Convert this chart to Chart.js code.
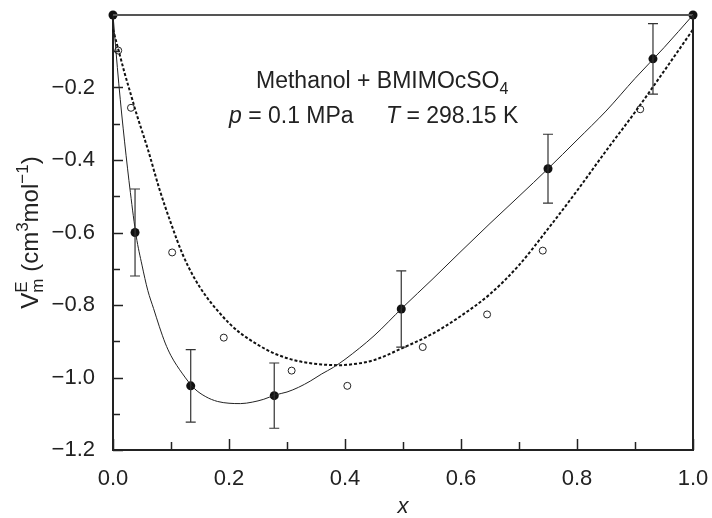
<!DOCTYPE html>
<html>
<head>
<meta charset="utf-8">
<script src="https://cdn.jsdelivr.net/npm/chart.js@4.4.1/dist/chart.umd.min.js"></script>
<style>
  html, body { margin: 0; padding: 0; background: #fff; }
  #wrap { width: 712px; height: 518px; }
</style>
</head>
<body>
<div id="wrap"><canvas id="chart" width="712" height="518"></canvas></div>
<script>
// measured points with error bars (filled circles)
const measX = [0, 0.038, 0.134, 0.278, 0.497, 0.75, 0.931, 1.0];
const measY = [0, -0.60, -1.023, -1.050, -0.811, -0.424, -0.121, 0];
const measErr = [0, 0.12, 0.10, 0.09, 0.105, 0.095, 0.097, 0];

// literature points (open circles)
const litX = [0.009, 0.031, 0.102, 0.191, 0.308, 0.404, 0.534, 0.645, 0.741, 0.909];
const litY = [-0.098, -0.256, -0.655, -0.890, -0.981, -1.023, -0.916, -0.826, -0.650, -0.260];

// solid fitted curve
const fitX = [0, 0.01, 0.02, 0.03, 0.04, 0.05, 0.06, 0.07, 0.08, 0.09, 0.10, 0.12, 0.14, 0.16, 0.18, 0.20,
  0.22, 0.24, 0.26, 0.28, 0.30, 0.32, 0.34, 0.36, 0.38, 0.40, 0.45, 0.50, 0.55, 0.60, 0.65, 0.70,
  0.75, 0.80, 0.85, 0.90, 0.95, 1.0];
const fitY = [0, -0.19, -0.35, -0.49, -0.61, -0.69, -0.76, -0.81, -0.86, -0.905, -0.94, -0.99, -1.03, -1.053, -1.066, -1.071,
  -1.072, -1.068, -1.06, -1.048, -1.04, -1.027, -1.01, -0.99, -0.972, -0.95, -0.885, -0.806, -0.73, -0.652, -0.575, -0.50,
  -0.424, -0.345, -0.265, -0.175, -0.09, 0];

// dashed curve
const dashX = [0, 0.01, 0.02, 0.03, 0.04, 0.05, 0.06, 0.08, 0.10, 0.12, 0.14, 0.16, 0.18, 0.20, 0.22, 0.25,
  0.28, 0.32, 0.36, 0.39, 0.42, 0.45, 0.50, 0.55, 0.60, 0.65, 0.70, 0.75, 0.80, 0.85, 0.90, 0.95, 1.0];
const dashY = [-0.04, -0.10, -0.16, -0.215, -0.27, -0.32, -0.37, -0.48, -0.575, -0.66, -0.725, -0.775, -0.815, -0.85, -0.878, -0.91,
  -0.935, -0.955, -0.964, -0.966, -0.962, -0.952, -0.918, -0.88, -0.83, -0.77, -0.69, -0.59, -0.485, -0.375, -0.268, -0.155, -0.04];

// axis ticks
const xTicks = [0, 0.2, 0.4, 0.6, 0.8, 1.0];
const xMinor = [0.1, 0.3, 0.5, 0.7, 0.9];
const yTicks = [-1.2, -1.0, -0.8, -0.6, -0.4, -0.2];
const yMinor = [-1.1, -0.9, -0.7, -0.5, -0.3, -0.1];

const FONT = "'Liberation Sans', Arial, Helvetica, sans-serif";

function pts(xs, ys) {
  return xs.map((x, i) => ({ x: x, y: ys[i] }));
}

// frame, inward ticks, error bars and text labels
const decorations = {
  id: 'decorations',
  afterDatasetsDraw(chart) {
    const ctx = chart.ctx;
    const a = chart.chartArea;
    const xs = chart.scales.x;
    const ys = chart.scales.y;

    ctx.save();
    // top and right frame lines
    ctx.lineCap = 'butt';
    ctx.strokeStyle = '#555';
    ctx.lineWidth = 2;
    ctx.beginPath();
    ctx.moveTo(a.left, a.top);
    ctx.lineTo(a.right, a.top);
    ctx.stroke();
    ctx.strokeStyle = '#222';
    ctx.beginPath();
    ctx.moveTo(a.right, a.top);
    ctx.lineTo(a.right, a.bottom + 1);
    ctx.stroke();

    // inward ticks
    ctx.lineWidth = 1.5;
    ctx.strokeStyle = '#222';
    yTicks.forEach(v => {
      const py = Math.round(ys.getPixelForValue(v)) + 0.5;
      ctx.beginPath(); ctx.moveTo(a.left, py); ctx.lineTo(a.left + 10, py); ctx.stroke();
    });
    yMinor.forEach(v => {
      const py = Math.round(ys.getPixelForValue(v)) + 0.5;
      ctx.beginPath(); ctx.moveTo(a.left, py); ctx.lineTo(a.left + 7, py); ctx.stroke();
    });
    xTicks.forEach(v => {
      const px = Math.round(xs.getPixelForValue(v)) + 0.5;
      ctx.beginPath(); ctx.moveTo(px, a.bottom); ctx.lineTo(px, a.bottom - 11); ctx.stroke();
    });
    xMinor.forEach(v => {
      const px = Math.round(xs.getPixelForValue(v)) + 0.5;
      ctx.beginPath(); ctx.moveTo(px, a.bottom); ctx.lineTo(px, a.bottom - 8); ctx.stroke();
    });

    // error bars
    ctx.lineWidth = 1.2;
    ctx.strokeStyle = '#333';
    measX.forEach((x, i) => {
      if (!measErr[i]) return;
      const px = xs.getPixelForValue(x);
      const top = ys.getPixelForValue(measY[i] + measErr[i]);
      const bot = ys.getPixelForValue(measY[i] - measErr[i]);
      ctx.beginPath();
      ctx.moveTo(px, top); ctx.lineTo(px, bot);
      ctx.moveTo(px - 5, top); ctx.lineTo(px + 5, top);
      ctx.moveTo(px - 5, bot); ctx.lineTo(px + 5, bot);
      ctx.stroke();
    });

    // annotation
    ctx.fillStyle = '#222';
    ctx.textBaseline = 'alphabetic';
    ctx.textAlign = 'left';
    ctx.font = '23px ' + FONT;
    let t = 'Methanol + BMIMOcSO';
    ctx.fillText(t, 256, 88);
    let w = ctx.measureText(t).width;
    ctx.font = '16px ' + FONT;
    ctx.fillText('4', 256 + w, 94);

    ctx.font = 'italic 23px ' + FONT;
    ctx.fillText('p', 229, 123);
    w = ctx.measureText('p').width;
    ctx.font = '23px ' + FONT;
    ctx.fillText(' = 0.1 MPa', 229 + w, 123);

    ctx.font = 'italic 23px ' + FONT;
    ctx.fillText('T', 386, 123);
    w = ctx.measureText('T').width;
    ctx.font = '23px ' + FONT;
    ctx.fillText(' = 298.15 K', 386 + w, 123);

    // y axis title, rotated, with super/subscripts
    const parts = [
      { s: 'V', f: '24px', dy: 0 },
      { s: 'E', f: '17px', dy: -11, stack: true },
      { s: 'm', f: '17px', dy: 5 },
      { s: ' (cm', f: '24px', dy: 0 },
      { s: '3', f: '17px', dy: -10 },
      { s: 'mol', f: '24px', dy: 0 },
      { s: '\u22121', f: '17px', dy: -10 },
      { s: ')', f: '24px', dy: 0 }
    ];
    let total = 0;
    const widths = parts.map(p => { ctx.font = p.f + ' ' + FONT; return ctx.measureText(p.s).width; });
    parts.forEach((p, i) => {
      if (p.stack) return;
      if (i > 0 && parts[i - 1].stack) { total += Math.max(widths[i], widths[i - 1]); return; }
      total += widths[i];
    });
    ctx.translate(29, (a.top + a.bottom) / 2);
    ctx.rotate(-Math.PI / 2);
    let cx = -total / 2;
    parts.forEach((p, i) => {
      ctx.font = p.f + ' ' + FONT;
      ctx.fillText(p.s, cx, 9 + p.dy);
      if (p.stack) return;
      if (i > 0 && parts[i - 1].stack) cx += Math.max(widths[i], widths[i - 1]);
      else cx += widths[i];
    });
    ctx.restore();
  }
};

const ctx = document.getElementById('chart');
new Chart(ctx, {
  type: 'scatter',
  data: {
    datasets: [{
      label: 'fit',
      type: 'line',
      data: pts(fitX, fitY),
      borderColor: '#222',
      borderWidth: 1,
      pointRadius: 0,
      cubicInterpolationMode: 'monotone',
      fill: false,
      clip: false
    }, {
      label: 'dashed',
      type: 'line',
      data: pts(dashX, dashY),
      borderColor: '#111',
      borderWidth: 2,
      borderDash: [3, 2],
      pointRadius: 0,
      cubicInterpolationMode: 'monotone',
      fill: false,
      clip: false
    }, {
      label: 'literature',
      data: pts(litX, litY),
      pointRadius: 3.5,
      pointBackgroundColor: '#fff',
      pointBorderColor: '#222',
      pointBorderWidth: 1,
      clip: false
    }, {
      label: 'measured',
      data: pts(measX, measY),
      pointRadius: 4.5,
      pointBackgroundColor: '#111',
      pointBorderColor: '#111',
      pointBorderWidth: 0,
      clip: false
    }]
  },
  options: {
    responsive: false,
    animation: false,
    layout: { padding: { left: 0, right: 19, top: 15, bottom: 0 } },
    plugins: {
      legend: { display: false },
      tooltip: { enabled: false }
    },
    scales: {
      x: {
        type: 'linear',
        min: 0,
        max: 1,
        afterBuildTicks: scale => { scale.ticks = xTicks.map(v => ({ value: v })); },
        afterFit: scale => { scale.height = 68; scale.paddingLeft = 0; scale.paddingRight = 0; },
        grid: { display: false },
        border: { display: true, color: '#222', width: 2 },
        ticks: {
          color: '#222',
          padding: 8,
          maxRotation: 0,
          font: { family: FONT, size: 22 },
          callback: v => v.toFixed(1)
        },
        title: {
          display: true,
          text: 'x',
          color: '#222',
          padding: { top: 0, bottom: 0 },
          font: { family: FONT, size: 22, style: 'italic', lineHeight: 1 }
        }
      },
      y: {
        type: 'linear',
        min: -1.2,
        max: 0,
        afterBuildTicks: scale => { scale.ticks = yTicks.map(v => ({ value: v })); },
        afterFit: scale => { scale.width = 113; scale.paddingTop = 0; scale.paddingBottom = 0; },
        grid: { display: false },
        border: { display: true, color: '#222', width: 2 },
        ticks: {
          color: '#222',
          padding: 10,
          font: { family: FONT, size: 22 },
          callback: v => '\u2212' + Math.abs(v).toFixed(1)
        }
      }
    }
  },
  plugins: [decorations]
});
</script>
</body>
</html>
